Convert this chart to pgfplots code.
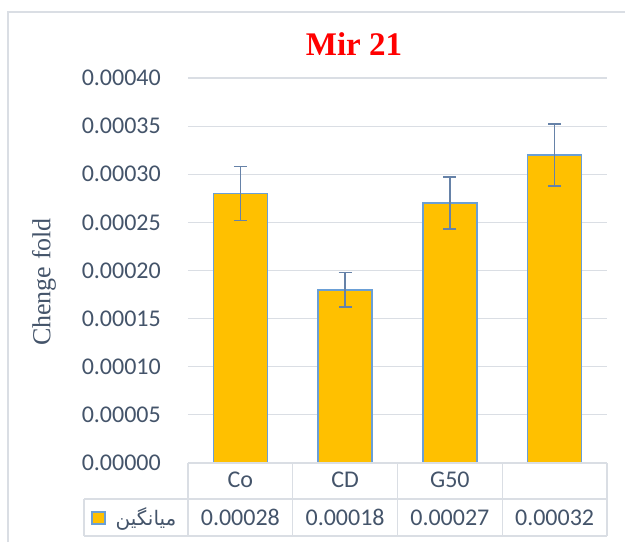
\documentclass[border=0pt]{standalone}
\usepackage{pgfplots}
\pgfplotsset{compat=1.18}
\usepackage{fontspec}
\setmainfont{Carlito}
\newfontfamily\serif{Liberation Serif}
\newfontfamily\arabicfont[Script=Arabic]{DejaVu Sans}
\TeXXeTstate=1
\definecolor{barfill}{HTML}{FFC000}
\definecolor{baredge}{HTML}{6A9FD6}
\definecolor{errc}{HTML}{6682A8}
\definecolor{txt}{HTML}{44546A}
\definecolor{gridc}{HTML}{DADEE4}
\begin{document}
\begin{tikzpicture}[x=1pt,y=1pt]
\useasboundingbox (0,0) rectangle (625,542);
\draw[gridc, line width=1.2pt] (8,0) -- (8,530) -- (625,530);
\begin{axis}[
  at={(188pt,79pt)}, anchor=south west,
  scale only axis, width=419pt, height=385pt,
  xmin=0.5, xmax=4.5, ymin=0, ymax=0.0004,
  ytick={0,0.00005,0.0001,0.00015,0.0002,0.00025,0.0003,0.00035,0.0004},
  scaled y ticks=false,
  ymajorgrids, grid style={gridc, line width=1.2pt},
  axis line style={draw=none},
  tick style={draw=none},
  xtick={1,2,3,4}, xticklabels={Co,CD,G50,{}},
  xticklabel style={anchor=base, yshift=-24pt, font=\fontsize{24}{28}\selectfont, text=txt},
  yticklabel style={anchor=east, inner sep=0pt, xshift=-27pt, font=\fontsize{24}{28}\selectfont, text=txt,
    /pgf/number format/.cd, fixed, fixed zerofill, precision=5, assume math mode=true},
  clip=false,
]
\addplot[ybar, bar width=54pt, fill=barfill, draw=baredge, line width=1.5pt,
  error bars/.cd, y dir=both, y explicit,
  error bar style={errc, line width=1.5pt},
  error mark options={rotate=90, errc, mark size=6.5pt, line width=1.5pt}]
  coordinates {
  (1,0.00028) +- (0,0.000028)
  (2,0.00018) +- (0,0.000018)
  (3,0.00027) +- (0,0.000027)
  (4,0.00032) +- (0,0.000032)
  };
\end{axis}
% data table grid
\draw[gridc, line width=1.2pt] (188,79) -- (607,79);
\draw[gridc, line width=1.2pt] (84,43) -- (607,43);
\draw[gridc, line width=1.2pt] (84,6) -- (607,6);
\foreach \xx in {188,292.75,397.5,502.25,607} {\draw[gridc, line width=1.2pt] (\xx,79) -- (\xx,6);}
\draw[gridc, line width=1.2pt] (84,43) -- (84,6);
% value row
\foreach \xx/\v in {240.375/0.00028,345.125/0.00018,449.875/0.00027,554.625/0.00032}
  {\node[anchor=base, text=txt, font=\fontsize{24}{28}\selectfont] at (\xx,17) {\v};}
\draw[fill=barfill, draw=baredge, line width=1.5pt] (92,18) rectangle (105,30);
\node[anchor=base, text=txt, font=\fontsize{20}{24}\selectfont] at (146,17) {\arabicfont\beginR میانگین\endR};
% y label
\node[rotate=90, text=txt, font=\serif\fontsize{26}{30}\selectfont] at (44,260) {Chenge fold};
% title
\node[text=red, font=\serif\bfseries\fontsize{33}{38}\selectfont] at (354,498) {Mir 21};
\end{tikzpicture}
\end{document}
